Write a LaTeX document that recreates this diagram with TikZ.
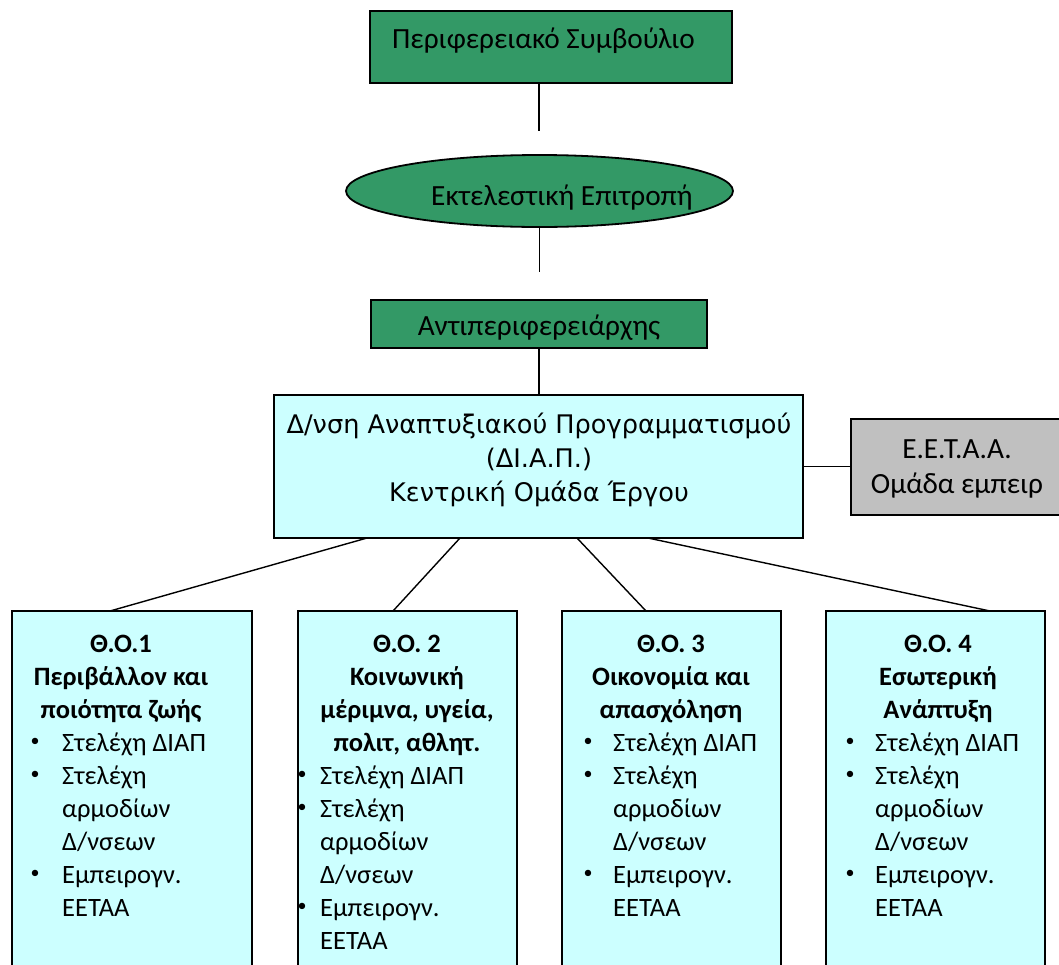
\documentclass[tikz,border=0pt]{standalone}
\usepackage{fontspec}
\setmainfont{Carlito}
\newfontfamily\diapfont{DejaVu Sans}
\usetikzlibrary{shapes.geometric,calc}
\definecolor{orggreen}{RGB}{51,153,102}
\definecolor{orgcyan}{RGB}{204,255,255}
\definecolor{orggray}{RGB}{192,192,192}
\newcommand{\orgbul}[1]{\llap{\makebox[#1][c]{\raisebox{5pt}{\fontsize{18}{18}\selectfont\textbullet}}}}
\begin{document}
\begin{tikzpicture}[x=1pt,y=-1pt,
  box/.style={draw=black,line width=1.8pt,inner sep=0pt,outer sep=0pt},
  greenbox/.style={box,fill=orggreen},
  cyanbox/.style={box,fill=orgcyan},
  graybox/.style={box,fill=orggray},
  lbl/.style={inner sep=0pt,font=\fontsize{29.3}{34.4}\selectfont},
  hd/.style={inner sep=0pt,font=\fontsize{26.5}{33}\selectfont\bfseries,align=center,anchor=base},
  bl/.style={inner sep=0pt,font=\fontsize{26.5}{33}\selectfont,align=left,anchor=base west},
  conn/.style={draw=black,line width=1.4pt}]
\useasboundingbox (0,0) rectangle (1059,964);
\clip (0,0) rectangle (1059,964);

% top box
\node[greenbox,minimum width=362pt,minimum height=72pt] (council) at (551,47) {};
\node[lbl,anchor=base west] (councilt) at (392,48) {Περιφερειακό Συμβούλιο};

% ellipse
\node[draw=black,line width=1.8pt,ellipse,fill=orggreen,inner sep=0pt,minimum width=387pt,minimum height=72pt] (exec) at (539.5,191) {};
\node[lbl,anchor=base west] (exect) at (431,205) {Εκτελεστική Επιτροπή};

\coordinate (c1end) at (539,131);
\draw[conn] (c1end |- council.south) -- (c1end);
\coordinate (c2end) at (539.5,272);
\draw[conn] (exec.south) -- (c2end);

% deputy
\node[greenbox,minimum width=336pt,minimum height=48pt] (deputy) at (539,324) {};
\node[lbl,anchor=base] (deputyt) at (539,335) {Αντιπεριφερειάρχης};

% DIAP
\node[cyanbox,minimum width=529pt,minimum height=143pt] (diap) at (538.5,466.5) {};
\node[inner sep=0pt,font=\diapfont\fontsize{25.6}{34.4}\selectfont,align=center,anchor=base] (diapt) at (539,501.8) {Δ/νση Αναπτυξιακού Προγραμματισμού\\(ΔΙ.Α.Π.)\\Κεντρική Ομάδα Έργου};
\draw[conn] (deputy.south) -- (deputy.south |- diap.north);

% EETAA
\node[graybox,minimum width=214pt,minimum height=96pt] (eetaa) at (958,467) {};
\node[lbl,align=center,anchor=base] (eetaat) at (957,493) {Ε.Ε.Τ.Α.Α.\\Ομάδα εμπειρ};
\draw[conn] (diap.east) -- (diap.east -| eetaa.west);

% bottom boxes
\node[cyanbox,minimum width=240pt,minimum height=389pt] (t1) at (132,805.5) {};
\node[cyanbox,minimum width=219pt,minimum height=389pt] (t2) at (407.5,805.5) {};
\node[cyanbox,minimum width=219pt,minimum height=389pt] (t3) at (671.5,805.5) {};
\node[cyanbox,minimum width=219pt,minimum height=389pt] (t4) at (935.5,805.5) {};

\draw[conn] ([xshift=-171.5pt]diap.south) -- ([xshift=-22pt]t1.north);
\draw[conn] ([xshift=-78.5pt]diap.south) -- ([xshift=-14.5pt]t2.north);
\draw[conn] ([xshift=38.5pt]diap.south) -- ([xshift=-25.5pt]t3.north);
\draw[conn] ([xshift=109.5pt]diap.south) -- ([xshift=54.5pt]t4.north);

\node[hd] (h1) at (121,718) {Θ.Ο.1\\Περιβάλλον και\\ποιότητα ζωής};
\node[bl] (b1) at (62,916) {\orgbul{54pt}Στελέχη ΔΙΑΠ\\\orgbul{54pt}Στελέχη\\αρμοδίων\\Δ/νσεων\\\orgbul{54pt}Εμπειρογν.\\ΕΕΤΑΑ};

\node[hd] (h2) at (407,751) {Θ.Ο. 2\\Κοινωνική\\μέριμνα, υγεία,\\πολιτ, αθλητ.};
\node[bl] (b2) at (320,949) {\orgbul{36pt}Στελέχη ΔΙΑΠ\\\orgbul{36pt}Στελέχη\\αρμοδίων\\Δ/νσεων\\\orgbul{36pt}Εμπειρογν.\\ΕΕΤΑΑ};

\node[hd] (h3) at (671,718) {Θ.Ο. 3\\Οικονομία και\\απασχόληση};
\node[bl] (b3) at (613,916) {\orgbul{50pt}Στελέχη ΔΙΑΠ\\\orgbul{50pt}Στελέχη\\αρμοδίων\\Δ/νσεων\\\orgbul{50pt}Εμπειρογν.\\ΕΕΤΑΑ};

\node[hd] (h4) at (938,718) {Θ.Ο. 4\\Εσωτερική\\Ανάπτυξη};
\node[bl] (b4) at (875,916) {\orgbul{50pt}Στελέχη ΔΙΑΠ\\\orgbul{50pt}Στελέχη\\αρμοδίων\\Δ/νσεων\\\orgbul{50pt}Εμπειρογν.\\ΕΕΤΑΑ};
\end{tikzpicture}
\end{document}
